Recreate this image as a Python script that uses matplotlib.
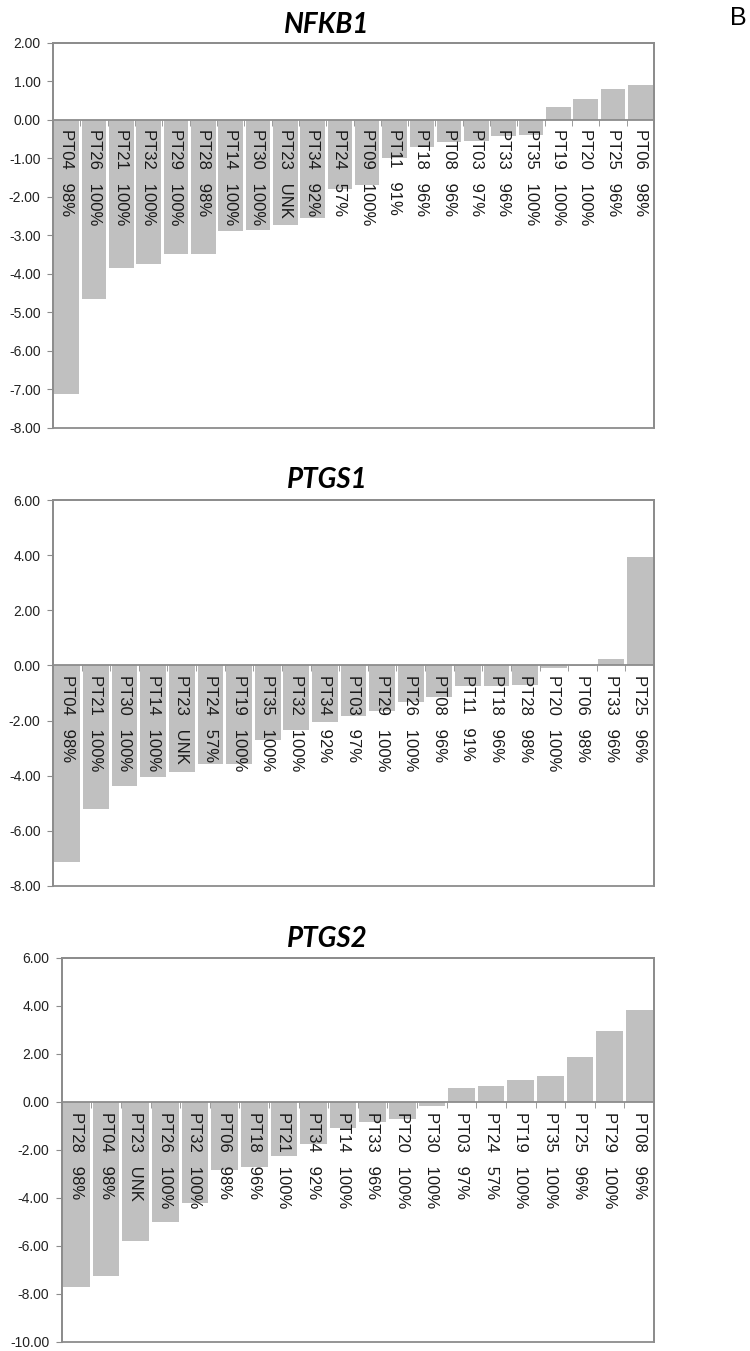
import numpy as np
import matplotlib
matplotlib.use('Agg')
import matplotlib.pyplot as plt
from matplotlib.ticker import FormatStrFormatter, MultipleLocator

plt.rcParams['font.family'] = ['Liberation Sans', 'DejaVu Sans']

# tumour purity per patient
purity = {
    'PT03': '97%', 'PT04': '98%', 'PT06': '98%', 'PT08': '96%', 'PT09': '100%',
    'PT11': '91%', 'PT14': '100%', 'PT18': '96%', 'PT19': '100%', 'PT20': '100%',
    'PT21': '100%', 'PT23': 'UNK', 'PT24': '57%', 'PT25': '96%', 'PT26': '100%',
    'PT28': '98%', 'PT29': '100%', 'PT30': '100%', 'PT32': '100%', 'PT33': '96%',
    'PT34': '92%', 'PT35': '100%',
}

nfkb1_ids = ['PT04', 'PT26', 'PT21', 'PT32', 'PT29', 'PT28', 'PT14', 'PT30', 'PT23', 'PT34', 'PT24',
             'PT09', 'PT11', 'PT18', 'PT08', 'PT03', 'PT33', 'PT35', 'PT19', 'PT20', 'PT25', 'PT06']
nfkb1_vals = [-7.13, -4.65, -3.85, -3.74, -3.48, -3.48, -2.90, -2.87, -2.72, -2.56, -1.80,
              -1.70, -0.98, -0.70, -0.57, -0.55, -0.43, -0.40, 0.34, 0.55, 0.80, 0.90]

ptgs1_ids = ['PT04', 'PT21', 'PT30', 'PT14', 'PT23', 'PT24', 'PT19', 'PT35', 'PT32', 'PT34', 'PT03',
             'PT29', 'PT26', 'PT08', 'PT11', 'PT18', 'PT28', 'PT20', 'PT06', 'PT33', 'PT25']
ptgs1_vals = [-7.12, -5.21, -4.36, -4.06, -3.88, -3.58, -3.58, -2.70, -2.36, -2.06, -1.82,
              -1.67, -1.31, -1.13, -0.75, -0.75, -0.70, -0.08, -0.02, 0.22, 3.94]

ptgs2_ids = ['PT28', 'PT04', 'PT23', 'PT26', 'PT32', 'PT06', 'PT18', 'PT21', 'PT34', 'PT14',
             'PT33', 'PT20', 'PT30', 'PT03', 'PT24', 'PT19', 'PT35', 'PT25', 'PT29', 'PT08']
ptgs2_vals = [-7.72, -7.26, -5.81, -5.00, -4.19, -2.82, -2.71, -2.27, -1.77, -1.07,
              -0.83, -0.72, -0.17, 0.60, 0.67, 0.90, 1.10, 1.88, 2.96, 3.85]

BAR = '#c0c0c0'
FRAME = '#8c8c8c'


def draw_panel(ax, ids, vals, ymin, ymax, step):
    x = np.arange(len(ids))
    ax.bar(x, vals, width=0.9, color=BAR, zorder=1)
    ax.set_xlim(-0.5, len(ids) - 0.5)
    ax.set_ylim(ymin, ymax)
    ax.set_axisbelow(False)

    ax.yaxis.set_major_locator(MultipleLocator(step))
    ax.yaxis.set_major_formatter(FormatStrFormatter('%.2f'))
    ax.tick_params(axis='y', length=4, color=FRAME, labelsize=10, pad=5, labelcolor='#222222')

    # category axis crosses at zero, like the Excel original
    ax.spines['bottom'].set_position(('data', 0))
    for s in ax.spines.values():
        s.set_color(FRAME)
        s.set_linewidth(1.3)
    ax.patch.set_edgecolor(FRAME)
    ax.patch.set_linewidth(1.3)

    ax.set_xticks(x)
    ax.set_xticklabels([f'{p}   {purity[p]}' for p in ids], rotation=270,
                       fontsize=12, color='#1a1a1a')
    ax.tick_params(axis='x', which='major', length=0, pad=7)
    ax.set_xticks(np.arange(len(ids) + 1) - 0.5, minor=True)
    ax.tick_params(axis='x', which='minor', length=4, color=FRAME, direction='out')


fig = plt.figure(figsize=(7.5, 13.51), dpi=100)

ax1 = fig.add_axes([0.0707, 0.6832, 0.8013, 0.2852])
ax2 = fig.add_axes([0.0707, 0.3442, 0.8013, 0.2857])
ax3 = fig.add_axes([0.0823, 0.0067, 0.7897, 0.2842])

draw_panel(ax1, nfkb1_ids, nfkb1_vals, -8, 2, 1)
draw_panel(ax2, ptgs1_ids, ptgs1_vals, -8, 6, 2)
draw_panel(ax3, ptgs2_ids, ptgs2_vals, -10, 6, 2)

for name, ybase in [('NFKB1', 33), ('PTGS1', 488), ('PTGS2', 947)]:
    fig.text(327 / 750, 1 - ybase / 1351, name, ha='center', va='baseline',
             fontsize=20, fontweight='bold', fontstyle='italic', family='Lato')

fig.text(730 / 750, 1 - 25 / 1351, 'B', ha='left', va='baseline', fontsize=18)

fig.savefig('out.png', dpi=100, facecolor='white')
